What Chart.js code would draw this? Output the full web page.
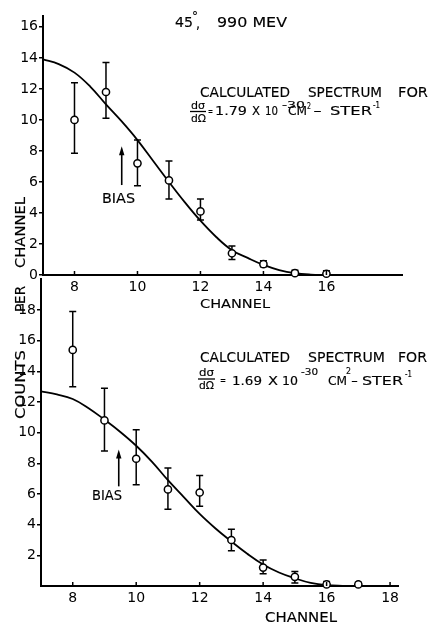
<!DOCTYPE html>
<html>
<head>
<meta charset="utf-8">
<script src="https://cdn.jsdelivr.net/npm/chart.js@4/dist/chart.umd.min.js"></script>
<style>
  html, body { margin: 0; padding: 0; background: #fff; }
  body { width: 429px; height: 624px; position: relative; overflow: hidden; }
  canvas { position: absolute; left: 0; }
  #c1 { top: 0; }
  #c2 { top: 270px; }
</style>
</head>
<body>
<canvas id="c1" width="429" height="312"></canvas>
<canvas id="c2" width="429" height="354"></canvas>
<script>
// ---------- DATA ----------
// Top panel (dσ/dΩ = 1.79e-30)
const topChannels = [8, 9, 10, 11, 12, 13, 14, 15, 16];
const topCounts   = [10.0, 11.8, 7.2, 6.1, 4.1, 1.4, 0.7, 0.12, 0.08];
const topErrLow   = [7.85, 10.1, 5.75, 4.9, 3.55, 1.0, 0.54, 0.0, 0.0];
const topErrHigh  = [12.4, 13.7, 8.7, 7.35, 4.9, 1.87, 0.92, 0.3, 0.28];
const topCurveX   = [7, 7.5, 8, 8.5, 9, 9.5, 10, 10.5, 11, 11.5, 12, 12.5, 13, 13.5, 14, 14.5, 15, 15.5, 16];
const topCurveY   = [13.9, 13.6, 13.05, 12.15, 11.0, 9.9, 8.7, 7.35, 6.0, 4.7, 3.5, 2.45, 1.6, 1.1, 0.65, 0.32, 0.12, 0.03, 0];
const topBias     = { x: 9.5, yFrom: 5.8, yTo: 8.3 };

// Bottom panel (dσ/dΩ = 1.69e-30)
const botChannels = [8, 9, 10, 11, 12, 13, 14, 15, 16, 17];
const botCounts   = [15.4, 10.8, 8.3, 6.3, 6.1, 3.0, 1.2, 0.6, 0.1, 0.1];
const botErrLow   = [13.0, 8.8, 6.6, 5.0, 5.2, 2.3, 0.8, 0.2, 0.0, 0.0];
const botErrHigh  = [17.9, 12.9, 10.2, 7.7, 7.2, 3.7, 1.7, 0.95, 0.3, 0.25];
const botCurveX   = [7, 7.5, 8, 8.5, 9, 9.5, 10, 10.5, 11, 11.5, 12, 12.5, 13, 13.5, 14, 14.5, 15, 15.5, 16, 16.5, 17];
const botCurveY   = [12.7, 12.5, 12.2, 11.6, 10.85, 10.05, 9.15, 8.1, 6.9, 5.8, 4.7, 3.75, 2.9, 2.1, 1.4, 0.88, 0.5, 0.2, 0.05, 0.01, 0];
const botBias     = { x: 9.45, yFrom: 6.5, yTo: 8.9 };

// Tick labels
const xTicksTop = [8, 10, 12, 14, 16];
const yTicksTop = [0, 2, 4, 6, 8, 10, 12, 14, 16];
const xTicksBot = [8, 10, 12, 14, 16, 18];
const yTicksBot = [2, 4, 6, 8, 10, 12, 14, 16, 18];

// ---------- HELPERS ----------
const FONT = '"DejaVu Sans", "Liberation Sans", sans-serif';
function fitText(ctx, s, x0, x1, base, size, oy) {
  ctx.save();
  ctx.font = size + 'px ' + FONT;
  ctx.fillStyle = '#000';
  ctx.strokeStyle = '#000';
  ctx.lineWidth = 0.15;
  ctx.textAlign = 'left';
  ctx.textBaseline = 'alphabetic';
  const w = ctx.measureText(s).width;
  ctx.translate(x0, base - oy);
  ctx.scale((x1 - x0) / w, 1);
  ctx.fillText(s, 0, 0);
  ctx.strokeText(s, 0, 0);
  ctx.restore();
}
function vText(ctx, s, yBottom, yTop, baseX, size, oy) {
  ctx.save();
  ctx.font = size + 'px ' + FONT;
  ctx.fillStyle = '#000';
  ctx.strokeStyle = '#000';
  ctx.lineWidth = 0.15;
  ctx.textAlign = 'left';
  ctx.textBaseline = 'alphabetic';
  const w = ctx.measureText(s).width;
  ctx.translate(baseX, yBottom - oy);
  ctx.rotate(-Math.PI / 2);
  ctx.scale((yBottom - yTop) / w, 1);
  ctx.fillText(s, 0, 0);
  ctx.strokeText(s, 0, 0);
  ctx.restore();
}
function hLine(ctx, x0, x1, y, oy, lw) {
  ctx.save();
  ctx.strokeStyle = '#000';
  ctx.lineWidth = lw || 1.3;
  ctx.beginPath();
  ctx.moveTo(x0, y - oy);
  ctx.lineTo(x1, y - oy);
  ctx.stroke();
  ctx.restore();
}

function errorBarPlugin(xs, lows, highs) {
  return {
    id: 'errbars',
    beforeDatasetsDraw(chart) {
      const sx = chart.scales.x, sy = chart.scales.y, ctx = chart.ctx;
      ctx.save();
      ctx.strokeStyle = '#000';
      ctx.lineWidth = 1.5;
      for (let i = 0; i < xs.length; i++) {
        const px = sx.getPixelForValue(xs[i]);
        const pLo = sy.getPixelForValue(lows[i]);
        const pHi = sy.getPixelForValue(highs[i]);
        ctx.beginPath();
        ctx.moveTo(px, pLo); ctx.lineTo(px, pHi);
        ctx.moveTo(px - 3.5, pLo); ctx.lineTo(px + 3.5, pLo);
        ctx.moveTo(px - 3.5, pHi); ctx.lineTo(px + 3.5, pHi);
        ctx.stroke();
      }
      ctx.restore();
    }
  };
}

function innerTicksPlugin(ticks) {
  return {
    id: 'innerTicks',
    afterDatasetsDraw(chart) {
      const sx = chart.scales.x, ctx = chart.ctx, b = chart.chartArea.bottom;
      ctx.save();
      ctx.strokeStyle = '#000';
      ctx.lineWidth = 1.5;
      ticks.forEach(v => {
        const px = sx.getPixelForValue(v);
        ctx.beginPath();
        ctx.moveTo(px, b); ctx.lineTo(px, b - 4);
        ctx.stroke();
      });
      ctx.restore();
    }
  };
}

function biasPlugin(bias, textX0, textX1, textBase) {
  return {
    id: 'bias',
    afterDatasetsDraw(chart) {
      const sx = chart.scales.x, sy = chart.scales.y, ctx = chart.ctx;
      const px = sx.getPixelForValue(bias.x);
      const pFrom = sy.getPixelForValue(bias.yFrom);
      const pTo = sy.getPixelForValue(bias.yTo);
      ctx.save();
      ctx.strokeStyle = '#000';
      ctx.fillStyle = '#000';
      ctx.lineWidth = 1.6;
      ctx.beginPath();
      ctx.moveTo(px, pFrom); ctx.lineTo(px, pTo + 6);
      ctx.stroke();
      ctx.beginPath();
      ctx.moveTo(px, pTo);
      ctx.lineTo(px - 2.7, pTo + 9);
      ctx.lineTo(px + 2.7, pTo + 9);
      ctx.closePath();
      ctx.fill();
      ctx.restore();
      const oy = chart.canvas.offsetTop;
      fitText(ctx, 'BIAS', textX0, textX1, textBase, 14, oy);
    }
  };
}

function makeOptions(o) {
  return {
    responsive: false,
    animation: false,
    devicePixelRatio: 1,
    layout: { padding: { top: o.padTop, right: o.padRight, left: 0, bottom: 0 } },
    plugins: { legend: { display: false }, tooltip: { enabled: false } },
    scales: {
      x: {
        type: 'linear',
        min: o.xMin, max: o.xMax,
        afterFit: s => { s.height = o.xHeight; },
        afterBuildTicks: s => { s.ticks = o.xTicks.map(v => ({ value: v })); },
        grid: { display: true, drawOnChartArea: false, drawTicks: false, color: '#000' },
        border: { display: true, color: '#000', width: 2 },
        ticks: { color: '#000', padding: 4, maxRotation: 0, autoSkip: false,
                 font: { family: FONT, size: 14 } }
      },
      y: {
        type: 'linear',
        min: o.yMin, max: o.yMax,
        afterFit: s => { s.width = o.yWidth; },
        afterBuildTicks: s => { s.ticks = o.yTicks.map(v => ({ value: v })); },
        grid: { display: true, drawOnChartArea: false, drawTicks: true, tickLength: 4, color: '#000', lineWidth: 1.5 },
        border: { display: true, color: '#000', width: 2 },
        ticks: { color: '#000', padding: 1, autoSkip: false,
                 font: { family: FONT, size: 14 } }
      }
    }
  };
}

function datasets(cx, cy, px, py) {
  return [
    {
      data: px.map((x, i) => ({ x: x, y: py[i] })),
      showLine: false,
      pointRadius: 3.6,
      pointBackgroundColor: '#fff',
      pointBorderColor: '#000',
      pointBorderWidth: 1.5,
      clip: false,
      order: 0
    },
    {
      data: cx.map((x, i) => ({ x: x, y: cy[i] })),
      showLine: true,
      pointRadius: 0,
      borderColor: '#000',
      borderWidth: 1.8,
      tension: 0.4,
      clip: false,
      order: 1
    }
  ];
}

// ---------- TOP CHART ----------
const topTexts = {
  id: 'topTexts',
  afterDraw(chart) {
    const ctx = chart.ctx, oy = 0;
    // header
    fitText(ctx, '45', 175, 193, 27, 14, oy);
    fitText(ctx, '°', 192, 198, 20, 12, oy);
    fitText(ctx, ',', 196, 200, 28, 14, oy);
    fitText(ctx, '990 MEV', 217, 287, 27, 14, oy);
    // calculated spectrum
    fitText(ctx, 'CALCULATED', 200, 290, 97, 14, oy);
    fitText(ctx, 'SPECTRUM', 308, 382, 97, 14, oy);
    fitText(ctx, 'FOR', 398, 428, 97, 14, oy);
    // equation
    fitText(ctx, 'dσ', 191, 205, 109, 11, oy);
    hLine(ctx, 190, 206, 111.5, oy, 1.3);
    fitText(ctx, 'dΩ', 191, 206, 122, 11, oy);
    fitText(ctx, '=', 208, 213, 115, 11, oy);
    fitText(ctx, '1.79', 215, 247, 115, 12, oy);
    fitText(ctx, 'X', 252, 260, 115, 12, oy);
    fitText(ctx, '10', 265, 278, 115, 12, oy);
    fitText(ctx, '-30', 282, 305, 108, 9, oy);
    fitText(ctx, 'CM', 288, 307, 115, 12, oy);
    fitText(ctx, '2', 307, 311, 109, 8, oy);
    fitText(ctx, '-', 313, 322, 115, 12, oy);
    fitText(ctx, 'STER', 330, 372, 115, 12, oy);
    fitText(ctx, '-1', 373, 380, 108, 8, oy);
    // axis titles
    fitText(ctx, 'CHANNEL', 200, 270, 308, 13, oy);
    vText(ctx, 'CHANNEL', 268, 197, 25, 14, oy);
  }
};

new Chart(document.getElementById('c1'), {
  type: 'scatter',
  data: { datasets: datasets(topCurveX, topCurveY, topChannels, topCounts) },
  options: makeOptions({
    padTop: 16, padRight: 27, xHeight: 37, yWidth: 43,
    xMin: 7, xMax: 18.4, yMin: 0, yMax: 16.7,
    xTicks: xTicksTop, yTicks: yTicksTop
  }),
  plugins: [errorBarPlugin(topChannels, topErrLow, topErrHigh), innerTicksPlugin(xTicksTop),
            biasPlugin(topBias, 102, 135, 203), topTexts]
});

// ---------- BOTTOM CHART ----------
const botTexts = {
  id: 'botTexts',
  afterDraw(chart) {
    const ctx = chart.ctx, oy = 270;
    fitText(ctx, 'CALCULATED', 200, 290, 362, 14, oy);
    fitText(ctx, 'SPECTRUM', 308, 385, 362, 14, oy);
    fitText(ctx, 'FOR', 398, 427, 362, 14, oy);
    fitText(ctx, 'dσ', 199, 214, 376, 11, oy);
    hLine(ctx, 198, 215, 379, oy, 1.3);
    fitText(ctx, 'dΩ', 199, 214, 389, 11, oy);
    fitText(ctx, '=', 220, 226, 384, 11, oy);
    fitText(ctx, '1.69', 232, 262, 385, 12, oy);
    fitText(ctx, 'X', 268, 278, 385, 12, oy);
    fitText(ctx, '10', 282, 298, 385, 12, oy);
    fitText(ctx, '-30', 301, 318, 375, 9, oy);
    fitText(ctx, 'CM', 328, 347, 385, 12, oy);
    fitText(ctx, '2', 346, 351, 374, 8, oy);
    fitText(ctx, '-', 351, 358, 385, 12, oy);
    fitText(ctx, 'STER', 362, 403, 385, 12, oy);
    fitText(ctx, '-1', 405, 412, 377, 8, oy);
    // axis titles
    fitText(ctx, 'CHANNEL', 265, 337, 622, 14, oy);
    vText(ctx, 'PER', 312, 286, 25, 14, oy);
    vText(ctx, 'COUNTS', 419, 350, 25, 14, oy);
  }
};

new Chart(document.getElementById('c2'), {
  type: 'scatter',
  data: { datasets: datasets(botCurveX, botCurveY, botChannels, botCounts) },
  options: makeOptions({
    padTop: 5, padRight: 31, xHeight: 38, yWidth: 41,
    xMin: 7, xMax: 18.25, yMin: 0, yMax: 20,
    xTicks: xTicksBot, yTicks: yTicksBot
  }),
  plugins: [errorBarPlugin(botChannels, botErrLow, botErrHigh), innerTicksPlugin(xTicksBot),
            biasPlugin(botBias, 92, 122, 500), botTexts]
});
</script>
</body>
</html>
